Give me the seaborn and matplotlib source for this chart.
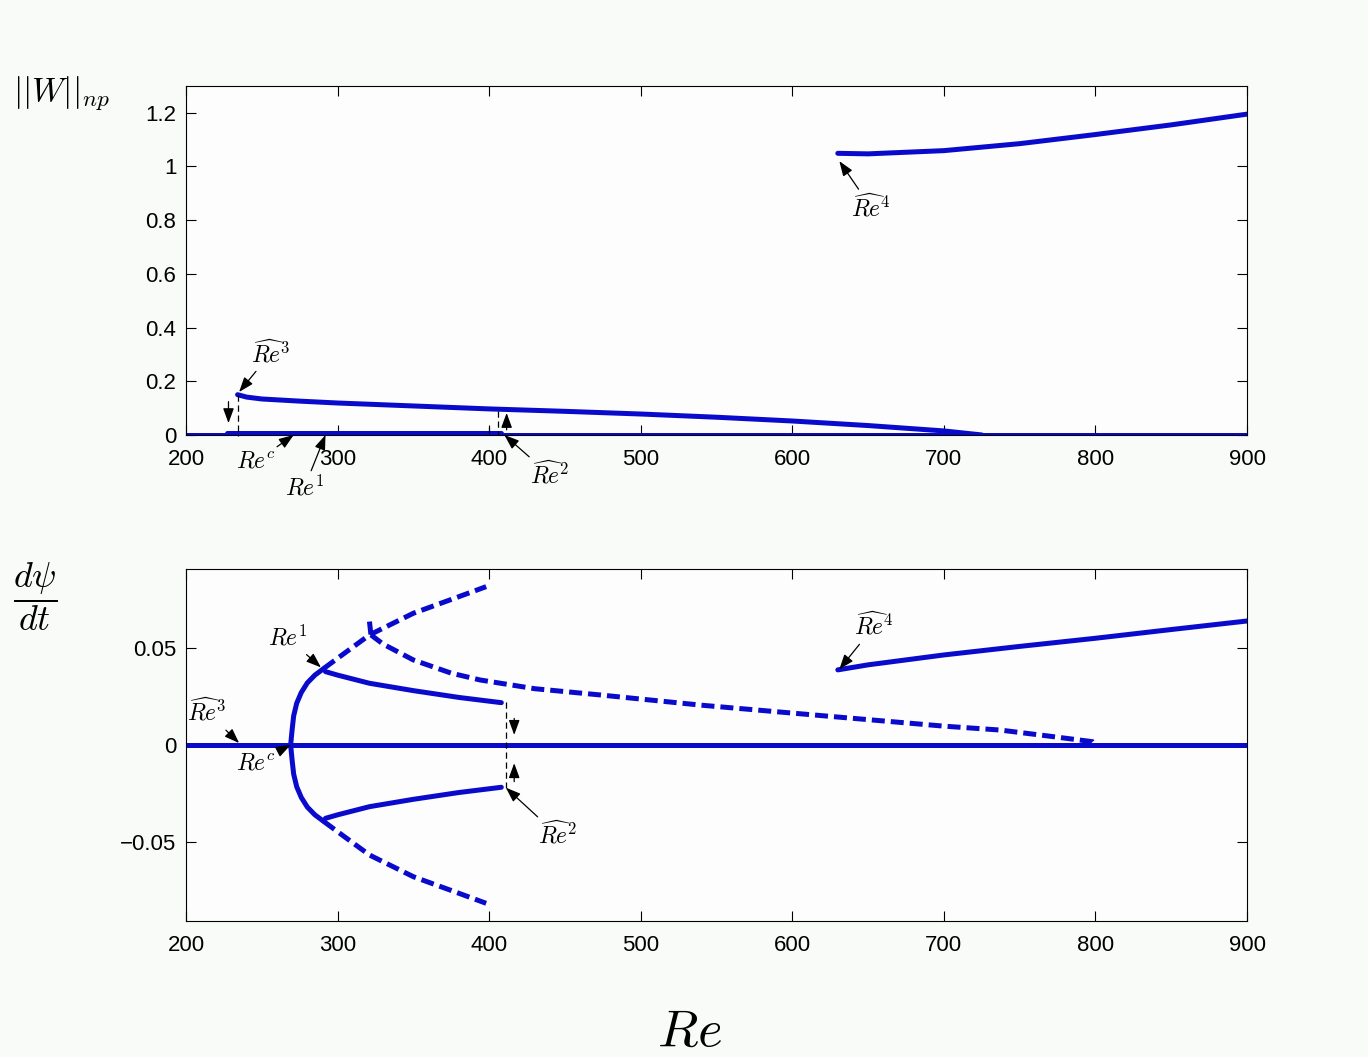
import numpy as np
import matplotlib
matplotlib.use("Agg")
import matplotlib.pyplot as plt
from matplotlib.ticker import FuncFormatter
import seaborn as sns

sns.set_style("ticks")
plt.rcParams["font.family"] = ["Liberation Sans", "DejaVu Sans"]
plt.rcParams["mathtext.fontset"] = "cm"
plt.rcParams["text.color"] = "k"

BLUE = "#0a0acd"
LW = 3.6
DASH = (0, (2.6, 1.2))

# ---- top panel: ||W||_np ----
re_zero = [200, 900]
w_zero = [0, 0]
re_small = [227, 408]
w_small = [0.006, 0.006]
re_low = [234, 240, 250, 275, 300, 350, 400, 450, 500, 550, 600, 650, 700, 725]
w_low = [0.150, 0.141, 0.134, 0.126, 0.119, 0.108, 0.097, 0.088, 0.078, 0.066, 0.052, 0.035, 0.015, 0.0]
re_high = [630, 650, 700, 750, 800, 850, 900]
w_high = [1.049, 1.047, 1.059, 1.085, 1.119, 1.155, 1.195]

# ---- bottom panel: dpsi/dt ----
re_onset = [269, 270, 271, 273, 276, 280, 285, 291]
psi_onset = [0.0, 0.008, 0.015, 0.0215, 0.027, 0.032, 0.036, 0.0395]
re_unst = [291, 300, 321, 350, 375, 398]
psi_unst = [0.0395, 0.0447, 0.0567, 0.0679, 0.075, 0.0816]
re_mid = [292, 300, 321, 350, 380, 408]
psi_mid = [0.0378, 0.036, 0.0318, 0.028, 0.0245, 0.0218]
re_decay = [322, 330, 350, 375, 394, 430, 473, 540, 627, 700, 737, 770, 798, 800]
psi_decay = [0.0567, 0.052, 0.0438, 0.037, 0.0335, 0.029, 0.0258, 0.0205, 0.0146,
             0.0097, 0.0077, 0.0045, 0.0017, 0.0]
re_spike = [321, 322]
psi_spike = [0.0636, 0.0567]
re_right = [630, 650, 700, 750, 800, 850, 900]
psi_right = [0.0387, 0.0413, 0.0464, 0.0508, 0.055, 0.0595, 0.0639]

re_hat3 = 234
re_hat2 = 411


def line(ax, x, y, dashed=False):
    sns.lineplot(x=x, y=y, ax=ax, color=BLUE, lw=LW, sort=False, estimator=None,
                 linestyle=DASH if dashed else "-")


def label(ax, txt, xy, xytext):
    ax.annotate(txt, xy=xy, xytext=xytext, textcoords="data", fontsize=17,
                ha="center", va="center", color="k",
                arrowprops=dict(arrowstyle="-|>,head_length=0.6,head_width=0.22",
                                color="k", lw=0.9, mutation_scale=15,
                                shrinkA=1, shrinkB=0))


def jump(ax, x, y0, y1):
    ax.annotate("", xy=(x, y1), xytext=(x, y0),
                arrowprops=dict(arrowstyle="-|>,head_length=0.6,head_width=0.22",
                                color="k", lw=0.9, mutation_scale=15,
                                shrinkA=0, shrinkB=0))


fig = plt.figure(figsize=(13.68, 10.57), dpi=100, facecolor="#f9fbf8")
ax1 = fig.add_axes([0.136, 0.5885, 0.7756, 0.3302])
ax2 = fig.add_axes([0.136, 0.1287, 0.7756, 0.333])

# top
line(ax1, re_zero, w_zero)
line(ax1, re_small, w_small)
line(ax1, re_low, w_low)
line(ax1, re_high, w_high)
ax1.plot([re_hat3, re_hat3], [0.15, -0.005], "k--", lw=0.9, dashes=(5, 3), clip_on=False)
ax1.plot([400, 400], [0.03, 0], "k--", lw=0.9, dashes=(5, 3))
ax1.plot([406, 406], [0.09, 0], "k--", lw=0.9, dashes=(5, 3))
jump(ax1, 228, 0.124, 0.044)
jump(ax1, 411.5, 0.019, 0.082)
label(ax1, r"$\widehat{Re}^3$", (235, 0.16), (256, 0.305))
label(ax1, r"$Re^c$", (271, 0), (246, -0.10))
label(ax1, r"$Re^1$", (292, 0), (278, -0.197))
label(ax1, r"$\widehat{Re}^2$", (410, 0), (440, -0.149))
label(ax1, r"$\widehat{Re}^4$", (631, 1.02), (652, 0.847))
ax1.set_ylim(0, 1.3)
ax1.set_yticks(np.arange(0, 1.21, 0.2))

# bottom
line(ax2, re_zero, [0, 0])
for sgn in (1, -1):
    line(ax2, re_onset, [sgn * v for v in psi_onset])
    line(ax2, re_unst, [sgn * v for v in psi_unst], dashed=True)
    line(ax2, re_mid, [sgn * v for v in psi_mid])
line(ax2, re_decay, psi_decay, dashed=True)
line(ax2, re_spike, psi_spike, dashed=True)
line(ax2, re_right, psi_right)
ax2.plot([re_hat2, re_hat2], [0.022, -0.022], "k--", lw=0.9, dashes=(5, 3))
jump(ax2, 416.5, 0.0137, 0.0052)
jump(ax2, 416.5, -0.0189, -0.0094)
label(ax2, r"$Re^1$", (289, 0.040), (267, 0.0552))
label(ax2, r"$\widehat{Re}^3$", (235, 0.001), (214, 0.017))
label(ax2, r"$Re^c$", (269, 0), (246, -0.0093))
label(ax2, r"$\widehat{Re}^2$", (411, -0.022), (445, -0.0464))
label(ax2, r"$\widehat{Re}^4$", (631, 0.039), (654, 0.0613))
ax2.set_ylim(-0.0907, 0.0907)
ax2.set_yticks([-0.05, 0, 0.05])

fmt = FuncFormatter(lambda v, p: f"{v:g}".replace("-", "\u2212"))
for ax in (ax1, ax2):
    ax.set_facecolor("#fcfdfc")
    ax.set_xlim(200, 900)
    ax.set_xticks(range(200, 901, 100))
    ax.yaxis.set_major_formatter(fmt)
    ax.set_xlabel("")
    ax.set_ylabel("")
    ax.tick_params(direction="in", top=True, right=True, length=7, width=0.8,
                   labelsize=16, colors="k")
    ax.tick_params(axis="x", pad=10)
    ax.tick_params(axis="y", pad=7)
    for s in ax.spines.values():
        s.set_linewidth(0.8)
        s.set_color("k")

fig.text(0.0095, 0.912, r"$||W||_{np}$", fontsize=24, ha="left", va="center")
fig.text(0.0256, 0.435, r"$\dfrac{d\psi}{dt}$", fontsize=26, ha="center", va="center")
fig.text(0.504, 0.024, r"$Re$", fontsize=38, ha="center", va="center")

fig.savefig("out.png", dpi=100, facecolor=fig.get_facecolor())
